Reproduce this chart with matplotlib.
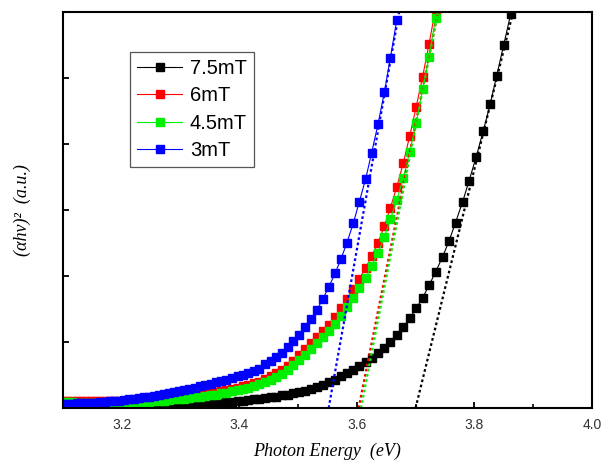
"""
Tauc plot: (alpha h nu)^2 vs photon energy for four field strengths.
"""

import matplotlib.pyplot as plt
from matplotlib.ticker import MultipleLocator

# photon energy grid (eV), one point per nm of wavelength, 400 nm -> 321 nm
energy = [
    3.100, 3.107, 3.115, 3.123, 3.131, 3.139, 3.147, 3.155, 3.163, 3.171,
    3.179, 3.187, 3.195, 3.204, 3.212, 3.220, 3.229, 3.237, 3.246, 3.254,
    3.263, 3.271, 3.280, 3.289, 3.297, 3.306, 3.315, 3.324, 3.333, 3.342,
    3.351, 3.360, 3.369, 3.378, 3.387, 3.397, 3.406, 3.415, 3.425, 3.434,
    3.444, 3.454, 3.463, 3.473, 3.483, 3.492, 3.502, 3.512, 3.522, 3.532,
    3.542, 3.552, 3.563, 3.573, 3.583, 3.594, 3.604, 3.615, 3.625, 3.636,
    3.647, 3.657, 3.668, 3.679, 3.690, 3.701, 3.712, 3.723, 3.734, 3.746,
    3.757, 3.768, 3.780, 3.791, 3.803, 3.815, 3.827, 3.838, 3.850, 3.862,
]

# (alpha h nu)^2 in arbitrary units
y_75mT = [
    0.00, 0.00, 0.00, 0.00, 0.00, 0.00, 0.00, 0.00, 0.00, 0.00,
    0.00, 0.01, 0.01, 0.01, 0.01, 0.01, 0.01, 0.02, 0.02, 0.02,
    0.02, 0.03, 0.03, 0.03, 0.04, 0.04, 0.05, 0.05, 0.06, 0.06,
    0.07, 0.07, 0.08, 0.09, 0.09, 0.10, 0.11, 0.12, 0.13, 0.14,
    0.15, 0.16, 0.17, 0.19, 0.20, 0.22, 0.24, 0.26, 0.29, 0.32,
    0.35, 0.39, 0.43, 0.48, 0.53, 0.58, 0.64, 0.70, 0.76, 0.83,
    0.91, 1.00, 1.10, 1.22, 1.36, 1.51, 1.67, 1.86, 2.06, 2.29,
    2.53, 2.81, 3.12, 3.44, 3.80, 4.19, 4.60, 5.03, 5.50, 5.97,
]
y_6mT = [
    0.10, 0.10, 0.10, 0.11, 0.11, 0.11, 0.11, 0.11, 0.11, 0.11,
    0.11, 0.11, 0.11, 0.11, 0.11, 0.11, 0.12, 0.12, 0.12, 0.13,
    0.13, 0.14, 0.15, 0.16, 0.17, 0.17, 0.18, 0.19, 0.20, 0.21,
    0.23, 0.24, 0.26, 0.27, 0.29, 0.31, 0.33, 0.35, 0.38, 0.40,
    0.44, 0.48, 0.53, 0.58, 0.64, 0.71, 0.80, 0.89, 0.98, 1.07,
    1.16, 1.26, 1.38, 1.51, 1.65, 1.80, 1.96, 2.12, 2.30, 2.50,
    2.76, 3.03, 3.35, 3.71, 4.12, 4.56, 5.02, 5.52, 6.05,
]
y_45mT = [
    0.09, 0.09, 0.09, 0.08, 0.08, 0.08, 0.08, 0.07, 0.07, 0.07,
    0.07, 0.07, 0.07, 0.07, 0.07, 0.08, 0.08, 0.09, 0.09, 0.10,
    0.10, 0.11, 0.12, 0.13, 0.14, 0.14, 0.15, 0.16, 0.17, 0.18,
    0.19, 0.20, 0.22, 0.23, 0.25, 0.27, 0.29, 0.31, 0.33, 0.36,
    0.39, 0.43, 0.47, 0.52, 0.58, 0.65, 0.73, 0.81, 0.89, 0.98,
    1.07, 1.17, 1.28, 1.40, 1.53, 1.67, 1.82, 1.97, 2.15, 2.35,
    2.59, 2.86, 3.15, 3.48, 3.88, 4.32, 4.83, 5.32, 5.91,
]
y_3mT = [
    0.06, 0.06, 0.06, 0.07, 0.07, 0.07, 0.08, 0.08, 0.09, 0.09,
    0.10, 0.10, 0.11, 0.12, 0.13, 0.14, 0.15, 0.16, 0.17, 0.18,
    0.19, 0.21, 0.22, 0.24, 0.26, 0.27, 0.29, 0.31, 0.33, 0.35,
    0.37, 0.39, 0.41, 0.43, 0.45, 0.48, 0.50, 0.53, 0.56, 0.59,
    0.66, 0.71, 0.77, 0.84, 0.92, 1.01, 1.11, 1.22, 1.35, 1.49,
    1.65, 1.83, 2.04, 2.26, 2.50, 2.80, 3.12, 3.47, 3.86, 4.30,
    4.79, 5.30, 5.88,
]

labels = ["7.5mT", "6mT", "4.5mT", "3mT"]
series = [y_75mT, y_6mT, y_45mT, y_3mT]
colors = ["#000000", "#ff0000", "#00ee00", "#0000ff"]

# linear extrapolation lines: energy where they cross 0 and the top (6)
fit_x0 = [3.700, 3.603, 3.607, 3.552]
fit_x1 = [3.866, 3.738, 3.738, 3.672]
fit_y = [0.0, 6.0]


fig = plt.figure(figsize=(6.02, 4.65), dpi=100)
ax = fig.add_axes([0.105, 0.1226, 0.878, 0.8516])

for lab, ys, c in zip(labels, series, colors):
    ax.plot(energy[:len(ys)], ys, "-s", color=c, lw=0.8, ms=6.2,
            mec=c, mfc=c, label=lab)

for x0, x1, c in zip(fit_x0, fit_x1, colors):
    ax.plot([x0, x1], fit_y, color=c, lw=1.6, ls=(0, (1.2, 1.2)))

ax.set_xlim(3.1, 4.0)
ax.set_ylim(0, 6)
ax.xaxis.set_major_locator(MultipleLocator(0.2))
ax.xaxis.set_minor_locator(MultipleLocator(0.1))
ax.yaxis.set_major_locator(MultipleLocator(1))
ax.set_yticklabels([])
ax.tick_params(direction="in", length=4, width=1.3, labelsize=10,
               labelcolor="#333333", pad=7)
ax.tick_params(which="minor", direction="in", length=3, width=1.2)
ax.tick_params(axis="y", which="both", left=True, right=False)
ax.tick_params(axis="x", which="both", bottom=True, top=False)
for lab in ax.get_xticklabels():
    lab.set_fontfamily("Liberation Sans")
for sp in ax.spines.values():
    sp.set_linewidth(1.5)

serif = {"family": "Liberation Serif", "style": "italic", "size": 13}
ax.set_xlabel("Photon Energy  (eV)", fontdict=serif, labelpad=8)
ax.set_ylabel("(αhν)²  (a.u.)", fontdict=serif, labelpad=16)

leg = ax.legend(loc="upper left", bbox_to_anchor=(0.127, 0.899),
                borderaxespad=0, fancybox=False, edgecolor="#555555",
                framealpha=1, handlelength=2.2, handletextpad=0.4,
                labelspacing=0.42, borderpad=0.35, markerscale=0.9,
                prop={"family": "Liberation Sans", "size": 14.5})
leg.get_frame().set_linewidth(0.9)

fig.savefig("out.png", dpi=100)
